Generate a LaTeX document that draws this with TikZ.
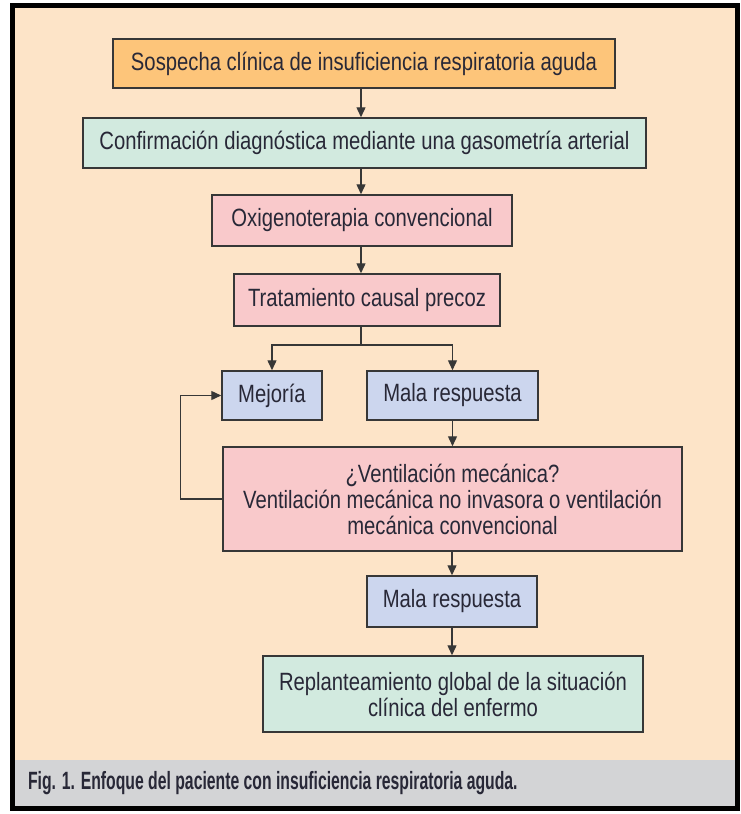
\documentclass[tikz,border=0pt]{standalone}
\usepackage{fontspec}
\setmainfont{Liberation Sans}[FakeStretch=0.81]
\newfontfamily\piefont{Liberation Sans}[FakeStretch=0.63]
\usetikzlibrary{arrows.meta}

\definecolor{fondo}{RGB}{253,228,200}
\definecolor{naranja}{RGB}{253,197,122}
\definecolor{verde}{RGB}{210,234,223}
\definecolor{rosa}{RGB}{249,201,203}
\definecolor{azul}{RGB}{204,214,238}
\definecolor{gris}{RGB}{211,212,214}
\definecolor{texto}{RGB}{40,40,55}
\definecolor{borde}{RGB}{55,55,55}

\begin{document}
\begin{tikzpicture}[x=0.5pt, y=-0.5pt,
	caja/.style={draw=borde, line width=0.75pt, inner sep=0pt, align=center,
		text=texto, font=\fontsize{12.5}{13}\selectfont},
	flecha/.style={draw=borde, line width=0.7pt, -{Triangle[length=5pt, width=4.5pt]}}]
	\useasboundingbox (0,0) rectangle (740,814);
	% Fondo y marco
	\fill[white] (0,0) rectangle (740,814);
	\fill[fondo] (12,5) rectangle (738,760);
	\fill[gris] (12,760) rectangle (738,808);
	\draw[black, line width=2.5pt] (12.5,5.5) rectangle (737.5,808.5);
	\node[anchor=west, text=texto, font=\piefont\fontsize{12.5}{13}\selectfont\bfseries] (pie) at (21,783)
		{Fig. 1. Enfoque del paciente con insuficiencia respiratoria aguda.};

	% Cajas
	\node[caja, fill=naranja, minimum width=251pt, minimum height=24.5pt] (sosp) at (364,63.5)
		{Sospecha clínica de insuficiencia respiratoria aguda};
	\node[caja, fill=verde, minimum width=281.5pt, minimum height=25pt] (conf) at (364.5,143)
		{Confirmación diagnóstica mediante una gasometría arterial};
	\node[caja, fill=rosa, minimum width=150pt, minimum height=25.5pt] (oxig) at (362,220.5)
		{Oxigenoterapia convencional};
	\node[caja, fill=rosa, minimum width=133pt, minimum height=26pt] (trat) at (367,300)
		{Tratamiento causal precoz};
	\node[caja, fill=azul, minimum width=50pt, minimum height=24.5pt] (mejo) at (272,395.5)
		{Mejoría};
	\node[caja, fill=azul, minimum width=85.5pt, minimum height=24.5pt] (mala1) at (452.5,395.5)
		{Mala respuesta};
	\node[caja, fill=rosa, minimum width=229.5pt, minimum height=52pt] (vent) at (452.5,499)
		{¿Ventilación mecánica?\\Ventilación mecánica no invasora o ventilación\\mecánica convencional};
	\node[caja, fill=azul, minimum width=85pt, minimum height=25.5pt] (mala2) at (452,601.5)
		{Mala respuesta};
	\node[caja, fill=verde, minimum width=190pt, minimum height=38pt] (repl) at (453,694)
		{Replanteamiento global de la situación\\clínica del enfermo};

	% Flechas
	\coordinate (eje) at (361,0);
	\coordinate (rama) at (361,345);
	\draw[flecha] (sosp.south -| eje) -- (conf.north -| eje);
	\draw[flecha] (conf.south -| eje) -- (oxig.north -| eje);
	\draw[flecha] (oxig.south -| eje) -- (trat.north -| eje);
	\draw[draw=borde, line width=0.7pt] (trat.south -| eje) -- (rama);
	\draw[flecha] (rama) -| (mejo.north);
	\draw[flecha] (rama) -| (mala1.north);
	\draw[flecha] (mala1.south) -- (vent.north -| mala1.south);
	\draw[flecha] (vent.south -| mala2.north) -- (mala2.north);
	\draw[flecha] (mala2.south) -- (repl.north -| mala2.south);
	\draw[flecha] (vent.west) -- ++(-42,0) |- (mejo.west);
\end{tikzpicture}
\end{document}
